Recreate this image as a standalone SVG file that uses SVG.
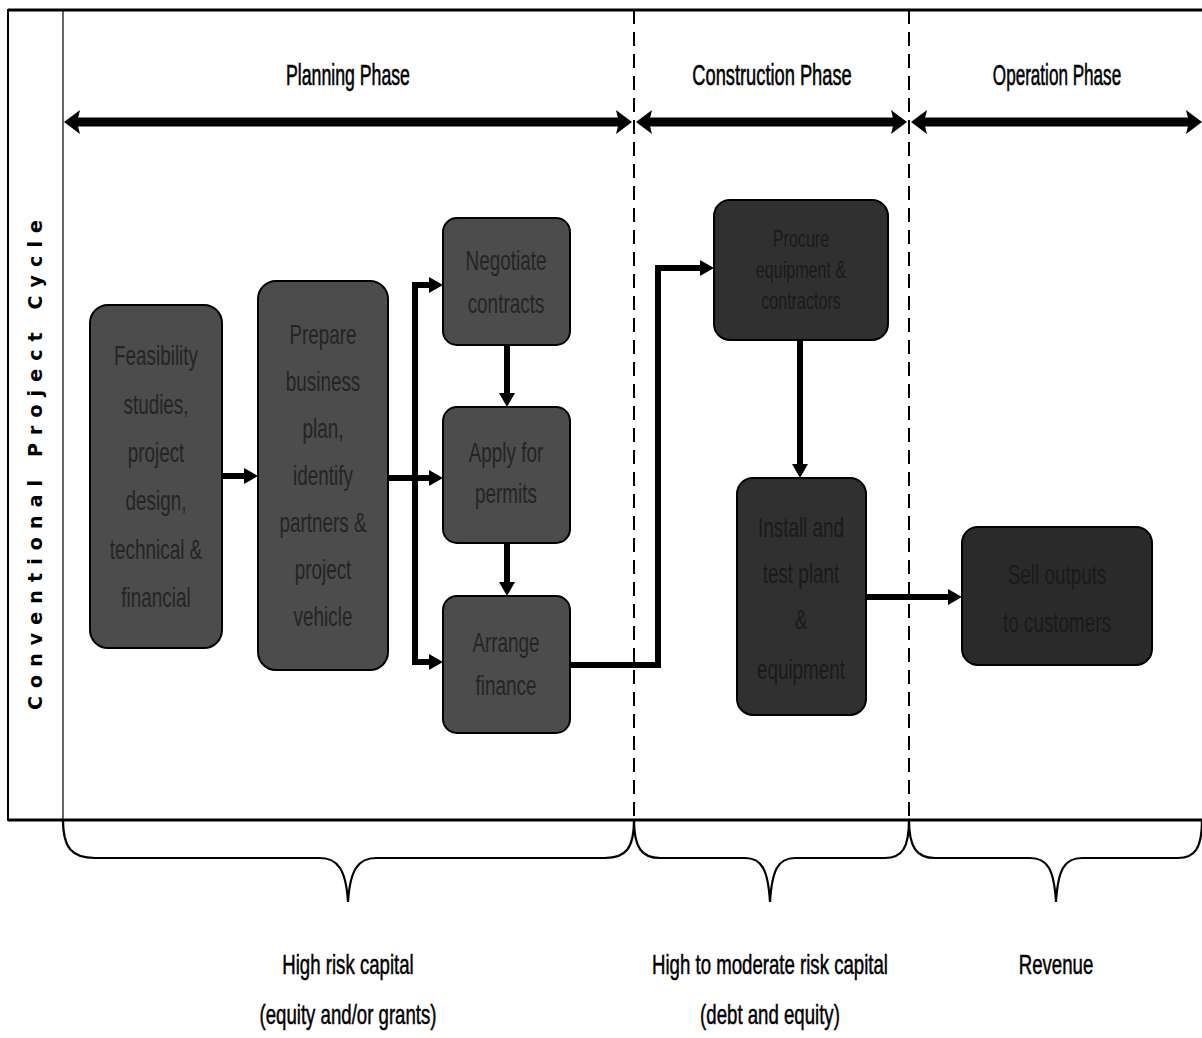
<svg xmlns="http://www.w3.org/2000/svg" width="1202" height="1038" viewBox="0 0 1202 1038">
<style>
.frame{fill:none;stroke:#000;stroke-width:2}
.dash{fill:none;stroke:#000;stroke-width:2;stroke-dasharray:14 8}
.phase{stroke:#000;stroke-width:9;fill:none}
.head{fill:#000}
.title{font-family:"Liberation Sans",sans-serif;font-size:29px;fill:#000;stroke:#000;stroke-width:0.6;text-anchor:middle}
.cap{font-family:"Liberation Sans",sans-serif;font-size:27px;fill:#000;stroke:#000;stroke-width:0.5;text-anchor:middle}
.brace{fill:none;stroke:#000;stroke-width:2.2}
.box{stroke:#000;stroke-width:2}
.p{fill:#4c4c4c}
.c{fill:#303030}
.o{fill:#2a2a2a}
.bt{font-family:"Liberation Sans",sans-serif;font-size:27px;fill:#242424;text-anchor:middle;dominant-baseline:central}
.bt2{fill:#1a1a1a}
.sm{font-size:23px}
.flow{fill:none;stroke:#000;stroke-width:6;stroke-linejoin:miter}
.side{font-family:"DejaVu Sans",Verdana,sans-serif;font-weight:bold;font-size:19px;fill:#000;text-anchor:middle}
</style>
<defs>
<marker id="ah" markerUnits="userSpaceOnUse" markerWidth="16" markerHeight="18" refX="4" refY="9" orient="auto" viewBox="0 0 16 18">
<path d="M0,1 L14,9 L0,17 z" fill="#000"/>
</marker>
</defs>
<rect width="1202" height="1038" fill="#fff"/>

<g id="frame">
<rect class="frame" x="8" y="10" width="1196" height="810"/>
<line x1="8" y1="10" x2="1202" y2="10" stroke="#000" stroke-width="3"/>
<line x1="8" y1="820" x2="1202" y2="820" stroke="#000" stroke-width="3"/>
<line x1="63" y1="10" x2="63" y2="820" stroke="#000" stroke-width="1.2"/>
<line class="dash" x1="634" y1="10" x2="634" y2="820"/>
<line class="dash" x1="909" y1="10" x2="909" y2="820"/>
<text class="side" transform="translate(42,465) rotate(-90)" textLength="490" lengthAdjust="spacing">Conventional Project Cycle</text>
</g>

<g id="phases">
<g transform="translate(348,85) scale(0.61,1)"><text class="title" x="0" y="0">Planning Phase</text></g>
<g transform="translate(772,85) scale(0.63,1)"><text class="title" x="0" y="0">Construction Phase</text></g>
<g transform="translate(1057,85) scale(0.59,1)"><text class="title" x="0" y="0">Operation Phase</text></g>
<line class="phase" x1="76" y1="122" x2="622" y2="122"/>
<polygon class="head" points="64,122 80,110 77,122 80,134"/>
<polygon class="head" points="632,122 616,110 619,122 616,134"/>
<line class="phase" x1="648" y1="122" x2="896" y2="122"/>
<polygon class="head" points="636,122 652,110 649,122 652,134"/>
<polygon class="head" points="907,122 891,110 894,122 891,134"/>
<line class="phase" x1="923" y1="122" x2="1190" y2="122"/>
<polygon class="head" points="911,122 927,110 924,122 927,134"/>
<polygon class="head" points="1202,122 1186,110 1189,122 1186,134"/>
</g>

<g id="n1"><rect class="box p" x="90" y="305" width="132" height="343" rx="18"/>
<g transform="translate(156,0) scale(0.7,1)"><text class="bt"><tspan x="0" y="356">Feasibility</tspan><tspan x="0" y="405">studies,</tspan><tspan x="0" y="453">project</tspan><tspan x="0" y="501">design,</tspan><tspan x="0" y="550">technical &amp;</tspan><tspan x="0" y="598">financial</tspan></text></g></g>

<g id="n2"><rect class="box p" x="258" y="281" width="130" height="389" rx="18"/>
<g transform="translate(323,0) scale(0.7,1)"><text class="bt"><tspan x="0" y="335">Prepare</tspan><tspan x="0" y="382">business</tspan><tspan x="0" y="429">plan,</tspan><tspan x="0" y="476">identify</tspan><tspan x="0" y="523">partners &amp;</tspan><tspan x="0" y="570">project</tspan><tspan x="0" y="617">vehicle</tspan></text></g></g>

<g id="n3"><rect class="box p" x="443" y="218" width="127" height="127" rx="14"/>
<g transform="translate(506,0) scale(0.7,1)"><text class="bt"><tspan x="0" y="261">Negotiate</tspan><tspan x="0" y="304">contracts</tspan></text></g></g>

<g id="n4"><rect class="box p" x="443" y="407" width="127" height="136" rx="14"/>
<g transform="translate(506,0) scale(0.7,1)"><text class="bt"><tspan x="0" y="453">Apply for</tspan><tspan x="0" y="494">permits</tspan></text></g></g>

<g id="n5"><rect class="box p" x="443" y="596" width="127" height="137" rx="14"/>
<g transform="translate(506,0) scale(0.7,1)"><text class="bt"><tspan x="0" y="643">Arrange</tspan><tspan x="0" y="686">finance</tspan></text></g></g>

<g id="n6"><rect class="box c" x="714" y="200" width="174" height="140" rx="16"/>
<g transform="translate(801,0) scale(0.7,1)"><text class="bt bt2 sm"><tspan x="0" y="239">Procure</tspan><tspan x="0" y="270">equipment &amp;</tspan><tspan x="0" y="301">contractors</tspan></text></g></g>

<g id="n7"><rect class="box c" x="737" y="478" width="129" height="237" rx="16"/>
<g transform="translate(801,0) scale(0.7,1)"><text class="bt bt2"><tspan x="0" y="528">Install and</tspan><tspan x="0" y="574">test plant</tspan><tspan x="0" y="620">&amp;</tspan><tspan x="0" y="670">equipment</tspan></text></g></g>

<g id="n8"><rect class="box o" x="962" y="527" width="190" height="138" rx="16"/>
<g transform="translate(1057,0) scale(0.7,1)"><text class="bt bt2"><tspan x="0" y="575">Sell outputs</tspan><tspan x="0" y="623">to customers</tspan></text></g></g>

<g id="connectors">
<path class="flow" d="M222,476 H248" marker-end="url(#ah)"/>
<path class="flow" d="M388,478 H433" marker-end="url(#ah)"/>
<path class="flow" d="M415,282 V665"/>
<path class="flow" d="M412,285 H433" marker-end="url(#ah)"/>
<path class="flow" d="M412,662 H433" marker-end="url(#ah)"/>
<path class="flow" d="M507,345 V397" marker-end="url(#ah)"/>
<path class="flow" d="M507,543 V586" marker-end="url(#ah)"/>
<path class="flow" d="M570,665 H658 V268 H704" marker-end="url(#ah)"/>
<path class="flow" d="M800,340 V468" marker-end="url(#ah)"/>
<path class="flow" d="M866,597 H952" marker-end="url(#ah)"/>
</g>

<g id="braces">
<path class="brace" d="M63,820 C63,848 72,858 95,858 L320,858 C338,858 346,870 348,902 C350,870 358,858 376,858 L605,858 C626,858 634,848 634,820"/>
<path class="brace" d="M634,820 C634,848 642,858 660,858 L745,858 C762,858 768,870 770,902 C772,870 778,858 795,858 L885,858 C902,858 909,848 909,820"/>
<path class="brace" d="M909,820 C909,848 917,858 935,858 L1030,858 C1048,858 1054,870 1056,902 C1058,870 1064,858 1082,858 L1178,858 C1195,858 1202,848 1202,820"/>
</g>

<g id="captions">
<g transform="translate(348,974) scale(0.69,1)"><text class="cap" x="0" y="0">High risk capital</text></g>
<g transform="translate(348,1024) scale(0.69,1)"><text class="cap" x="0" y="0">(equity and/or grants)</text></g>
<g transform="translate(770,974) scale(0.69,1)"><text class="cap" x="0" y="0">High to moderate risk capital</text></g>
<g transform="translate(770,1024) scale(0.69,1)"><text class="cap" x="0" y="0">(debt and equity)</text></g>
<g transform="translate(1056,974) scale(0.69,1)"><text class="cap" x="0" y="0">Revenue</text></g>
</g>
</svg>
